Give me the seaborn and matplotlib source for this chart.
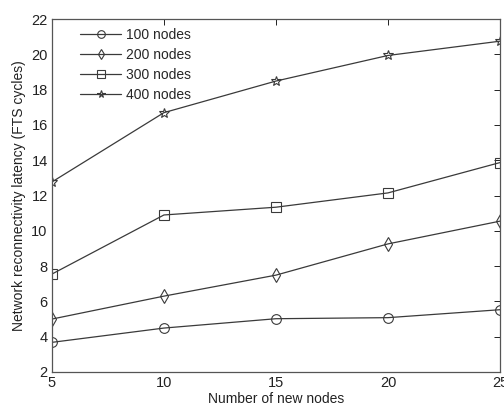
import matplotlib
matplotlib.use("Agg")
import matplotlib.pyplot as plt
import seaborn as sns
import pandas as pd

new_nodes = [5, 10, 15, 20, 25]
series_names = ["100 nodes", "200 nodes", "300 nodes", "400 nodes"]
lat_100 = [3.68, 4.49, 5.02, 5.08, 5.53]
lat_200 = [5.00, 6.30, 7.49, 9.26, 10.55]
lat_300 = [7.55, 10.90, 11.34, 12.15, 13.87]
lat_400 = [12.77, 16.70, 18.49, 19.94, 20.75]
x_ticks = [5, 10, 15, 20, 25]
y_ticks = [2, 4, 6, 8, 10, 12, 14, 16, 18, 20, 22]

rows = []
for name, vals in zip(series_names, [lat_100, lat_200, lat_300, lat_400]):
    for x, v in zip(new_nodes, vals):
        rows.append({"x": x, "y": v, "series": name})
df = pd.DataFrame(rows)

sns.set_theme(style="white")
plt.rcParams["font.family"] = ["Liberation Sans", "DejaVu Sans"]

fig = plt.figure(figsize=(5.04, 4.07), dpi=100)
ax = fig.add_axes([0.103, 0.086, 0.889, 0.867])

markers = {"100 nodes": "o", "200 nodes": "d", "300 nodes": "s", "400 nodes": "*"}
sns.lineplot(data=df, x="x", y="y", hue="series", style="series",
             markers=markers, dashes=False,
             palette=["#3a3a3a"] * 4, ax=ax, linewidth=0.9,
             markersize=7, markerfacecolor="none", markeredgewidth=0.8,
             markeredgecolor="#3a3a3a")

ax.set_xlim(5, 25)
ax.set_ylim(2, 22)
ax.set_xticks(x_ticks)
ax.set_yticks(y_ticks)
ax.tick_params(direction="in", top=True, right=True, length=4, width=0.7,
               labelsize=10.5, colors="#222222", pad=3)
for s in ax.spines.values():
    s.set_visible(True)
    s.set_color("#555555")
    s.set_linewidth(0.9)
ax.set_xlabel("Number of new nodes", fontsize=10, color="#222222", labelpad=1)
ax.set_ylabel("Network reconnectivity latency (FTS cycles)", fontsize=10,
              color="#222222", labelpad=4)

handles, labels = ax.get_legend_handles_labels()
for h in handles:
    h.set_markerfacecolor("none")
    h.set_markeredgecolor("#3a3a3a")
    h.set_markersize(5.5)
leg = ax.legend(handles, labels, loc="upper left", frameon=False,
                fontsize=10, handlelength=2.9, handletextpad=0.35,
                labelspacing=0.42, borderaxespad=0.2,
                bbox_to_anchor=(0.045, 0.998))

fig.savefig("out.png", dpi=100)
